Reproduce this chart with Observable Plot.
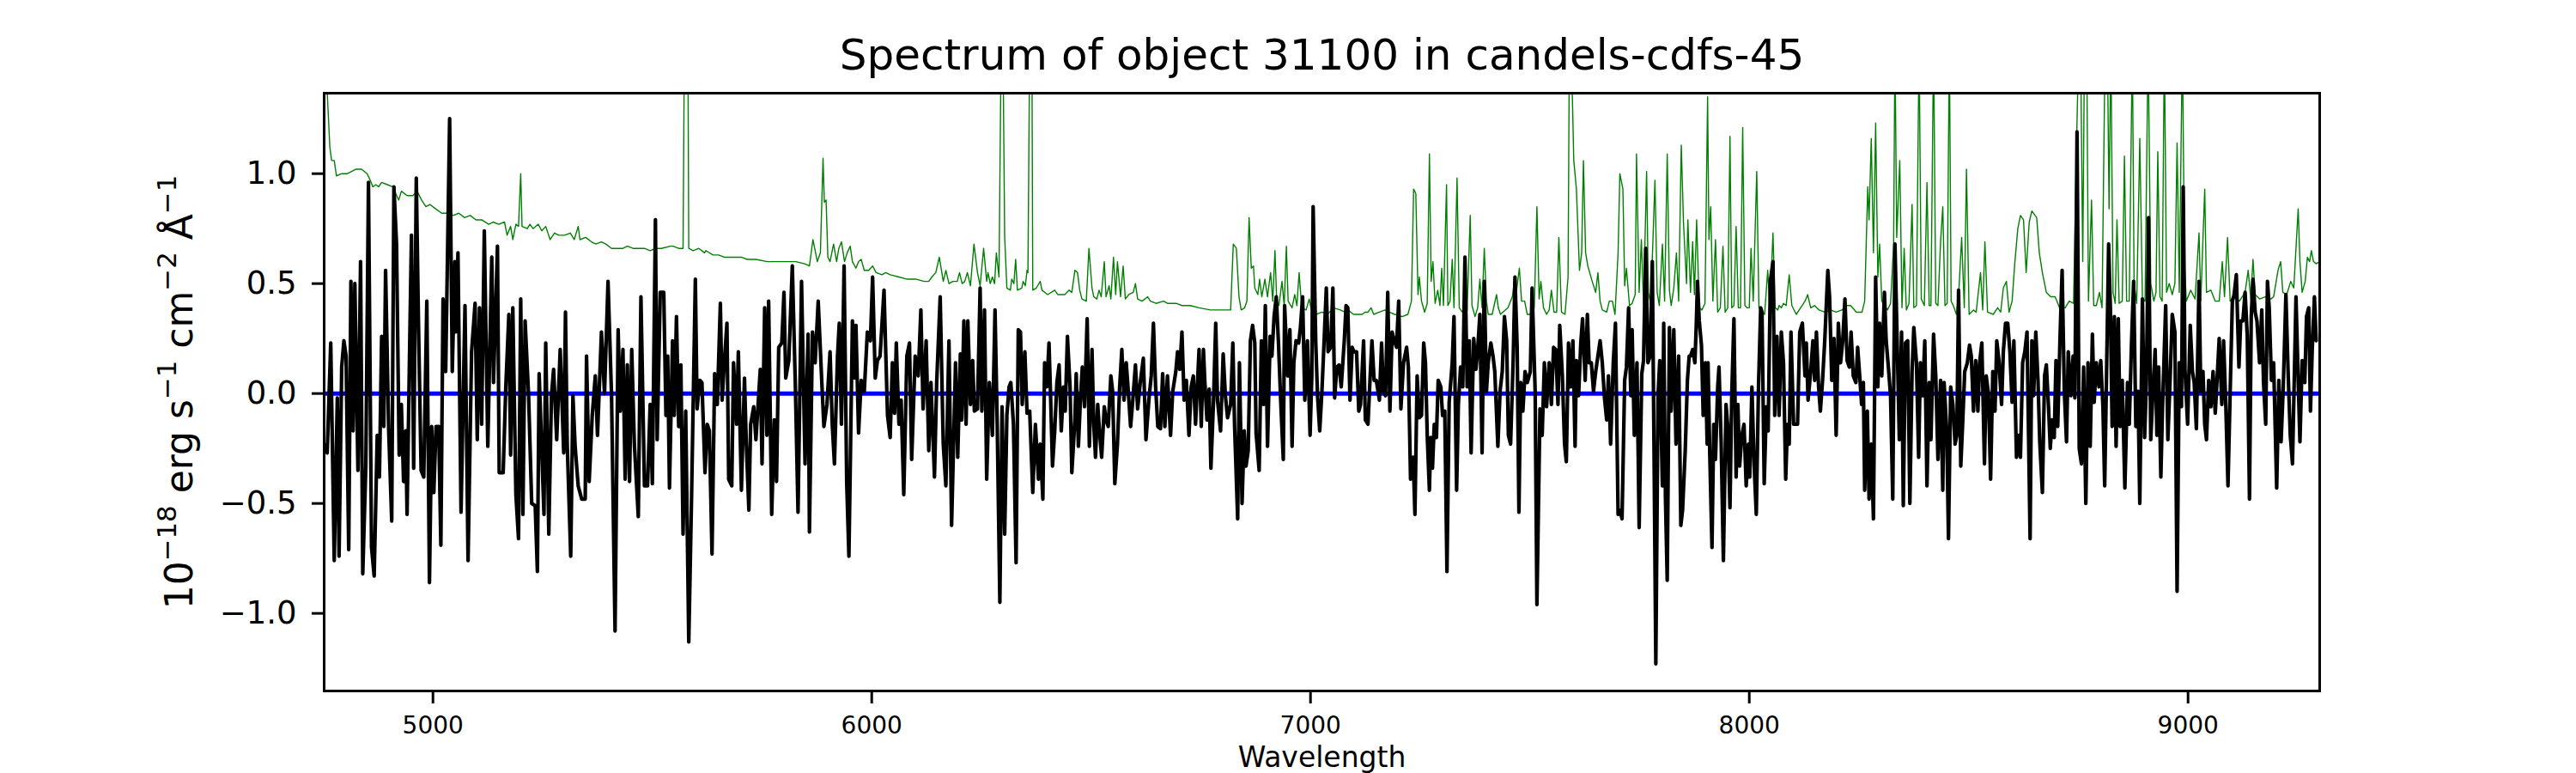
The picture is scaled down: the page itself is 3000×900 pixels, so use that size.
<!DOCTYPE html>
<html>
<head>
<meta charset="utf-8">
<script src="https://cdn.jsdelivr.net/npm/d3@7"></script>
<script src="https://cdn.jsdelivr.net/npm/@observablehq/plot@0.6"></script>
<style>
html,body{margin:0;padding:0;background:#fff;}
#chart{width:3000px;height:900px;}
</style>
</head>
<body>
<div id="chart"></div>
<script>
const titleText = "Spectrum of object 31100 in candels-cdfs-45";
const xLabelText = "Wavelength";
// y label pieces: [text, isSuperscript]
const yLabelParts = [["10", false], ["\u221218", true], [" erg s", false], ["\u22121", true], [" cm", false], ["\u22122", true], [" \u00C5", false], ["\u22121", true]];
const yLabelText = yLabelParts.map(p => p[0]).join("");
const xTicks = [5000, 6000, 7000, 8000, 9000];
const yTicks = [-1.0, -0.5, 0.0, 0.5, 1.0];
const zeroLevel = [0];

// observed flux [wavelength, flux]
const flux = [
[4752,-0.23],[4759,-0.27],[4767,0.23],[4775,-0.76],[4782,-0.02],[4786,-0.74],[4792,0.12],[4797,0.24],[4802,0.17],[4808,-0.71],
[4813,0.51],[4818,-0.17],[4822,0.50],[4829,-0.35],[4835,0.60],[4840,-0.82],[4847,-0.33],[4853,0.96],[4860,-0.70],[4866,-0.83],
[4873,-0.19],[4878,-0.38],[4883,0.26],[4888,-0.15],[4892,0.56],[4899,-0.16],[4906,-0.58],[4911,0.94],[4917,0.68],[4923,-0.28],
[4928,-0.05],[4933,-0.40],[4938,-0.17],[4941,-0.55],[4947,0.23],[4951,0.72],[4956,-0.34],[4962,0.98],[4967,0.32],[4973,-0.35],
[4979,-0.38],[4986,0.42],[4992,-0.86],[4997,-0.15],[5002,-0.45],[5007,-0.15],[5013,-0.15],[5018,-0.69],[5023,0.43],[5029,0.10],
[5038,1.25],[5044,0.10],[5050,0.60],[5052,0.28],[5057,0.64],[5064,-0.54],[5073,0.40],[5080,-0.76],[5088,0.19],[5096,0.41],
[5101,-0.21],[5106,0.39],[5111,-0.14],[5117,0.74],[5125,-0.24],[5134,0.62],[5138,0.05],[5147,0.67],[5151,-0.36],[5160,-0.36],
[5166,0.03],[5173,0.36],[5177,-0.28],[5182,0.39],[5189,-0.46],[5195,-0.66],[5200,0.43],[5205,-0.55],[5210,0.33],[5218,-0.01],
[5225,-0.50],[5233,-0.51],[5238,-0.81],[5242,0.09],[5253,-0.55],[5257,0.23],[5264,-0.64],[5270,-0.01],[5275,0.11],[5282,-0.21],
[5290,0.20],[5298,-0.27],[5302,0.37],[5306,-0.23],[5314,-0.74],[5319,-0.01],[5324,-0.24],[5331,-0.42],[5339,-0.48],[5347,-0.48],
[5350,0.17],[5356,-0.40],[5363,-0.10],[5370,0.08],[5375,-0.19],[5384,0.28],[5391,0.00],[5399,0.51],[5407,-0.01],[5415,-1.08],
[5422,0.29],[5427,-0.08],[5433,0.20],[5438,-0.39],[5443,0.13],[5448,-0.40],[5453,0.20],[5459,-0.23],[5468,-0.56],[5474,0.44],
[5482,-0.42],[5489,-0.42],[5495,-0.05],[5500,-0.41],[5507,0.79],[5511,-0.21],[5518,0.46],[5526,0.46],[5531,-0.10],[5535,0.17],
[5539,-0.43],[5546,0.24],[5550,-0.10],[5555,0.35],[5560,-0.15],[5565,0.13],[5570,-0.64],[5576,-0.08],[5583,-1.13],[5589,-0.51],
[5598,0.52],[5602,-0.07],[5608,0.06],[5613,0.05],[5620,-0.36],[5625,-0.14],[5630,-0.17],[5636,-0.73],[5642,0.09],[5648,-0.05],
[5655,0.41],[5659,-0.03],[5664,0.14],[5670,0.32],[5674,-0.39],[5681,-0.42],[5685,0.14],[5692,-0.14],[5696,0.19],[5703,-0.44],
[5710,0.07],[5714,-0.22],[5720,-0.53],[5724,-0.14],[5731,-0.06],[5736,-0.21],[5746,0.11],[5750,-0.32],[5756,0.39],[5761,-0.19],
[5765,0.42],[5772,-0.55],[5778,-0.12],[5783,-0.40],[5788,0.21],[5795,0.23],[5800,0.46],[5804,0.07],[5811,0.15],[5819,0.58],
[5826,0.03],[5832,-0.54],[5840,0.51],[5848,-0.32],[5855,0.27],[5858,-0.63],[5865,0.28],[5871,0.14],[5878,0.42],[5886,0.06],
[5891,-0.15],[5898,-0.05],[5905,0.19],[5910,-0.14],[5915,-0.32],[5922,0.17],[5926,0.32],[5931,-0.14],[5937,0.58],[5943,-0.41],
[5948,-0.74],[5956,0.33],[5961,0.07],[5964,0.31],[5970,-0.18],[5976,0.06],[5983,0.01],[5990,0.28],[5997,0.24],[6002,0.53],
[6008,0.07],[6013,0.15],[6019,0.17],[6028,0.47],[6036,-0.10],[6042,-0.20],[6047,0.14],[6052,-0.09],[6056,0.23],[6062,-0.14],
[6067,-0.03],[6073,-0.46],[6080,0.17],[6086,0.23],[6091,-0.30],[6099,0.17],[6106,0.08],[6112,0.38],[6117,-0.07],[6124,0.24],
[6130,-0.26],[6135,0.05],[6143,-0.38],[6148,0.05],[6156,0.44],[6163,-0.23],[6169,-0.42],[6176,0.24],[6182,-0.60],[6191,0.14],
[6196,-0.29],[6202,0.18],[6205,-0.12],[6210,0.33],[6215,-0.14],[6219,0.33],[6225,-0.05],[6230,0.15],[6234,-0.08],[6241,-0.07],
[6247,0.48],[6251,-0.08],[6257,0.38],[6262,-0.39],[6268,0.05],[6275,-0.19],[6281,0.38],[6286,-0.14],[6292,-0.95],[6297,-0.06],
[6303,-0.64],[6308,-0.10],[6313,0.03],[6317,0.05],[6323,-0.14],[6329,-0.77],[6334,0.29],[6339,0.28],[6343,-0.05],[6349,0.19],
[6354,-0.09],[6360,-0.08],[6367,-0.45],[6373,-0.14],[6380,-0.39],[6384,-0.23],[6390,-0.48],[6394,0.14],[6399,0.03],[6404,0.23],
[6407,0.03],[6412,-0.33],[6417,-0.17],[6422,0.05],[6427,0.13],[6432,-0.17],[6437,0.03],[6441,-0.08],[6446,0.26],[6452,0.03],
[6456,-0.36],[6463,-0.12],[6466,0.09],[6471,-0.24],[6476,-0.01],[6480,0.12],[6485,-0.06],[6491,0.34],[6496,-0.24],[6502,0.20],
[6506,-0.14],[6510,-0.29],[6515,-0.05],[6519,-0.17],[6524,-0.29],[6530,-0.06],[6534,-0.12],[6539,-0.15],[6545,0.08],[6549,0.01],
[6554,-0.41],[6560,-0.23],[6565,0.03],[6570,0.20],[6575,-0.03],[6580,0.14],[6584,0.03],[6590,-0.15],[6595,-0.03],[6601,0.13],
[6606,-0.07],[6612,0.05],[6619,0.16],[6625,-0.21],[6632,-0.02],[6637,0.08],[6642,0.32],[6647,0.03],[6652,-0.15],[6658,-0.16],
[6663,0.09],[6668,-0.15],[6674,0.08],[6681,-0.19],[6686,0.01],[6693,0.10],[6697,0.19],[6702,0.11],[6707,0.28],[6712,-0.03],
[6717,0.06],[6723,-0.19],[6728,0.03],[6733,0.08],[6738,-0.14],[6746,0.20],[6751,-0.15],[6756,0.20],[6759,0.06],[6764,-0.12],
[6769,0.02],[6773,-0.34],[6779,-0.03],[6784,0.32],[6788,-0.03],[6795,-0.17],[6801,0.18],[6806,-0.01],[6811,-0.11],[6818,-0.05],
[6823,0.23],[6827,-0.15],[6834,-0.57],[6838,0.14],[6844,-0.50],[6849,-0.17],[6853,-0.33],[6858,-0.26],[6863,0.24],[6868,0.31],
[6873,0.23],[6876,-0.18],[6883,-0.35],[6888,0.24],[6893,-0.05],[6897,0.40],[6902,-0.24],[6908,0.26],[6912,0.17],[6917,0.35],
[6922,0.44],[6927,0.23],[6932,-0.03],[6938,-0.30],[6941,0.40],[6948,0.08],[6953,0.29],[6958,-0.24],[6962,0.14],[6967,0.24],
[6973,0.23],[6977,0.30],[6982,0.44],[6987,-0.03],[6993,0.24],[6999,-0.19],[7003,0.08],[7006,0.85],[7012,0.23],[7016,-0.01],
[7021,-0.17],[7026,0.01],[7031,0.24],[7036,0.48],[7040,0.19],[7046,0.21],[7051,0.48],[7055,-0.02],[7060,0.12],[7065,0.13],
[7070,0.03],[7077,0.24],[7081,0.40],[7085,0.39],[7090,-0.03],[7095,0.21],[7099,0.19],[7105,0.19],[7110,-0.08],[7114,-0.05],
[7121,0.24],[7125,-0.12],[7131,-0.14],[7136,0.08],[7140,0.24],[7145,0.06],[7150,0.06],[7157,-0.03],[7162,0.23],[7166,0.01],
[7171,-0.01],[7176,0.46],[7181,-0.08],[7186,0.28],[7191,0.24],[7196,0.21],[7201,0.42],[7206,-0.07],[7212,0.14],[7219,0.21],
[7223,0.12],[7228,-0.39],[7234,-0.29],[7238,-0.55],[7243,0.08],[7248,-0.11],[7253,-0.10],[7258,0.23],[7262,0.14],[7266,-0.19],
[7271,-0.44],[7274,-0.20],[7278,-0.34],[7282,-0.14],[7287,-0.20],[7291,0.06],[7297,0.03],[7301,-0.10],[7306,-0.08],[7311,-0.81],
[7316,-0.04],[7323,0.14],[7327,0.35],[7333,-0.44],[7337,-0.05],[7342,0.12],[7347,0.03],[7352,0.62],[7357,0.03],[7362,0.24],
[7366,-0.27],[7372,0.25],[7377,0.11],[7381,0.20],[7386,0.36],[7391,-0.27],[7396,0.51],[7401,0.01],[7405,0.14],[7411,0.23],
[7416,0.17],[7420,0.10],[7427,-0.24],[7432,0.01],[7437,0.10],[7442,0.35],[7447,0.24],[7451,-0.19],[7456,-0.23],[7462,0.16],
[7466,0.53],[7471,0.21],[7475,-0.54],[7479,0.05],[7484,-0.08],[7489,0.10],[7494,0.05],[7501,0.10],[7505,0.48],[7512,0.01],
[7516,-0.96],[7523,-0.07],[7528,-0.19],[7533,0.14],[7538,-0.06],[7544,0.14],[7549,-0.05],[7554,0.21],[7559,0.20],[7564,-0.05],
[7568,0.31],[7574,0.08],[7579,-0.23],[7583,-0.31],[7588,0.23],[7593,0.03],[7598,0.24],[7603,-0.24],[7606,0.15],[7611,-0.01],
[7616,0.23],[7620,0.34],[7626,0.06],[7631,0.36],[7635,0.14],[7640,0.14],[7645,0.01],[7650,0.10],[7655,0.17],[7660,0.24],
[7665,0.14],[7670,-0.02],[7675,-0.12],[7679,0.08],[7684,-0.23],[7690,0.14],[7695,0.32],[7701,-0.55],[7705,-0.53],[7710,-0.57],
[7716,0.06],[7720,0.12],[7725,0.39],[7730,-0.01],[7733,0.29],[7738,-0.19],[7744,0.14],[7749,-0.61],[7755,0.09],[7759,0.15],
[7764,0.66],[7769,0.14],[7774,0.17],[7779,0.60],[7783,-0.28],[7787,-1.23],[7792,-0.01],[7796,0.15],[7802,-0.42],[7805,0.32],
[7809,-0.48],[7813,-0.85],[7818,0.30],[7822,-0.08],[7828,0.29],[7833,-0.23],[7839,0.17],[7844,-0.60],[7848,-0.53],[7854,-0.26],
[7859,0.06],[7863,0.17],[7866,0.17],[7871,0.20],[7876,0.14],[7879,0.30],[7882,0.51],[7886,0.33],[7891,0.22],[7895,-0.10],
[7900,0.14],[7904,-0.23],[7906,0.14],[7910,-0.28],[7915,-0.70],[7919,-0.14],[7923,-0.30],[7928,0.03],[7931,0.12],[7936,-0.23],
[7941,-0.76],[7947,-0.05],[7951,-0.15],[7956,-0.52],[7960,-0.01],[7965,0.34],[7970,-0.38],[7974,-0.05],[7978,-0.33],[7983,-0.19],
[7988,-0.14],[7993,-0.42],[7998,-0.23],[8001,-0.38],[8006,0.03],[8011,-0.32],[8016,-0.55],[8021,0.03],[8026,0.39],[8029,0.37],
[8034,-0.41],[8039,-0.06],[8043,-0.17],[8048,0.51],[8054,0.60],[8058,-0.10],[8063,0.26],[8068,-0.10],[8073,0.28],[8078,0.14],
[8083,-0.39],[8087,-0.14],[8091,-0.23],[8095,0.28],[8101,-0.14],[8106,-0.14],[8110,-0.14],[8115,0.28],[8121,0.32],[8127,0.08],
[8130,0.23],[8134,-0.03],[8140,0.10],[8145,0.24],[8149,0.06],[8153,0.28],[8158,0.03],[8162,-0.08],[8167,0.06],[8172,0.24],
[8179,0.56],[8183,0.44],[8188,0.06],[8193,0.25],[8198,-0.19],[8203,0.32],[8208,0.14],[8213,0.24],[8218,0.43],[8223,0.15],
[8228,0.12],[8232,0.28],[8237,0.08],[8243,0.05],[8247,0.21],[8252,0.07],[8256,-0.05],[8260,0.05],[8263,-0.44],[8269,-0.08],
[8273,-0.48],[8278,-0.23],[8283,-0.57],[8288,0.53],[8293,0.03],[8297,0.32],[8302,0.08],[8308,0.46],[8312,0.24],[8317,0.12],
[8322,-0.01],[8327,-0.48],[8332,0.68],[8336,0.33],[8342,-0.21],[8347,0.28],[8351,-0.51],[8356,0.23],[8361,0.24],[8366,-0.50],
[8371,0.10],[8375,0.30],[8381,0.14],[8386,-0.29],[8390,0.14],[8395,-0.01],[8400,0.24],[8405,-0.42],[8410,0.05],[8414,-0.21],
[8420,0.27],[8425,0.08],[8430,-0.30],[8436,0.06],[8441,-0.44],[8444,0.05],[8450,-0.17],[8454,-0.66],[8459,0.03],[8464,-0.05],
[8469,-0.23],[8473,-0.19],[8477,0.47],[8482,-0.33],[8486,-0.15],[8491,0.10],[8497,0.14],[8502,0.22],[8506,0.17],[8511,-0.08],
[8516,0.15],[8521,-0.08],[8525,0.14],[8530,0.23],[8536,-0.32],[8540,0.08],[8545,0.00],[8550,-0.39],[8555,0.10],[8560,-0.08],
[8564,0.24],[8569,0.15],[8575,-0.05],[8579,0.19],[8584,0.32],[8589,0.32],[8594,0.19],[8599,-0.04],[8603,0.24],[8609,-0.29],
[8614,-0.19],[8618,-0.29],[8623,0.14],[8628,0.19],[8633,0.28],[8640,-0.66],[8644,0.24],[8648,-0.01],[8653,0.28],[8658,0.06],
[8662,-0.22],[8668,-0.45],[8673,0.08],[8677,0.13],[8682,-0.06],[8686,-0.25],[8690,-0.12],[8695,-0.20],[8699,0.15],[8703,-0.15],
[8708,0.24],[8713,0.56],[8718,0.01],[8723,-0.22],[8727,0.19],[8733,-0.01],[8738,0.17],[8742,-0.02],[8747,1.19],[8752,-0.25],
[8757,-0.32],[8762,0.12],[8767,-0.50],[8772,0.14],[8777,-0.24],[8782,0.27],[8786,-0.04],[8791,0.14],[8797,0.03],[8801,0.15],
[8806,-0.06],[8810,-0.42],[8814,0.06],[8819,0.68],[8823,0.39],[8827,-0.15],[8832,0.35],[8836,-0.24],[8841,0.34],[8845,-0.15],
[8850,0.06],[8856,-0.43],[8862,0.05],[8866,-0.14],[8871,0.22],[8876,0.51],[8881,-0.15],[8886,0.01],[8890,-0.50],[8896,0.43],
[8901,-0.20],[8905,0.05],[8910,0.80],[8915,-0.21],[8920,0.01],[8925,0.20],[8929,-0.19],[8933,0.12],[8938,-0.38],[8942,-0.05],
[8949,0.40],[8954,-0.21],[8959,0.06],[8964,0.36],[8970,0.28],[8975,-0.90],[8980,0.14],[8985,-0.06],[8989,0.94],[8993,0.11],
[8999,-0.14],[9005,0.31],[9010,0.10],[9014,0.05],[9019,-0.16],[9025,0.51],[9029,0.01],[9034,0.10],[9038,-0.14],[9042,-0.21],
[9047,0.06],[9052,-0.06],[9057,0.10],[9062,-0.09],[9066,0.06],[9071,0.25],[9077,-0.05],[9081,0.24],[9086,-0.05],[9091,-0.42],
[9096,0.01],[9101,0.42],[9105,0.45],[9110,0.54],[9116,0.12],[9120,0.33],[9125,0.33],[9130,0.46],[9135,0.26],[9140,-0.48],
[9144,0.35],[9148,0.52],[9153,0.37],[9157,0.33],[9163,0.14],[9168,0.38],[9172,0.05],[9177,-0.14],[9181,0.51],[9185,0.39],
[9190,0.06],[9195,0.14],[9202,-0.43],[9207,0.06],[9212,-0.22],[9217,0.03],[9223,0.45],[9228,0.10],[9233,-0.19],[9238,-0.32],
[9242,0.06],[9246,0.44],[9251,0.06],[9255,-0.22],[9260,0.15],[9266,0.05],[9270,0.35],[9275,0.39],[9279,-0.08],[9283,0.20],
[9288,0.44],[9292,0.24]
];

// green spectrum [wavelength, value]
const sky = [
[4752,1.45],[4759,1.37],[4765,1.12],[4769,1.06],[4775,1.06],[4780,0.99],[4792,1.00],[4805,1.00],[4824,1.02],[4837,1.02],
[4850,1.00],[4857,0.97],[4863,0.94],[4870,0.95],[4876,0.94],[4883,0.96],[4896,0.95],[4909,0.94],[4915,0.91],[4922,0.88],
[4928,0.92],[4941,0.90],[4954,0.90],[4964,0.92],[4974,0.88],[4984,0.85],[4993,0.86],[5006,0.84],[5020,0.82],[5033,0.82],
[5046,0.81],[5059,0.82],[5072,0.80],[5085,0.81],[5098,0.79],[5111,0.79],[5127,0.77],[5137,0.78],[5150,0.77],[5163,0.78],
[5169,0.72],[5177,0.76],[5182,0.70],[5189,0.77],[5195,0.76],[5200,1.00],[5203,0.76],[5215,0.75],[5221,0.77],[5228,0.75],
[5240,0.77],[5248,0.74],[5257,0.76],[5267,0.70],[5277,0.73],[5287,0.72],[5300,0.72],[5313,0.73],[5322,0.70],[5331,0.76],
[5335,0.70],[5348,0.71],[5361,0.69],[5371,0.68],[5384,0.69],[5394,0.68],[5407,0.66],[5420,0.66],[5433,0.66],[5443,0.67],
[5456,0.66],[5469,0.66],[5482,0.66],[5495,0.65],[5508,0.66],[5521,0.66],[5541,0.67],[5547,0.67],[5560,0.66],[5570,0.66],
[5573,1.60],[5581,1.60],[5583,0.66],[5593,0.65],[5606,0.66],[5619,0.64],[5622,0.65],[5638,0.63],[5651,0.63],[5664,0.62],
[5677,0.62],[5703,0.62],[5716,0.61],[5736,0.61],[5762,0.60],[5782,0.60],[5801,0.60],[5827,0.60],[5847,0.59],[5858,0.58],
[5866,0.70],[5876,0.60],[5883,0.64],[5889,1.07],[5892,0.87],[5896,0.88],[5900,0.62],[5905,0.60],[5913,0.68],[5920,0.60],
[5925,0.66],[5931,0.69],[5938,0.60],[5944,0.64],[5951,0.67],[5956,0.60],[5964,0.57],[5970,0.60],[5976,0.61],[5983,0.56],
[5993,0.56],[6002,0.58],[6010,0.55],[6023,0.54],[6032,0.55],[6042,0.54],[6062,0.53],[6081,0.52],[6101,0.52],[6120,0.51],
[6130,0.51],[6137,0.53],[6146,0.55],[6154,0.62],[6163,0.51],[6169,0.56],[6176,0.50],[6185,0.51],[6195,0.51],[6200,0.55],
[6206,0.50],[6212,0.51],[6218,0.55],[6225,0.49],[6233,0.68],[6241,0.55],[6247,0.49],[6255,0.66],[6262,0.51],[6265,0.55],
[6270,0.50],[6275,0.53],[6280,0.50],[6284,0.64],[6290,0.53],[6295,1.60],[6299,1.60],[6303,0.71],[6308,0.48],[6316,0.47],
[6319,0.52],[6324,0.50],[6328,0.61],[6332,0.47],[6342,0.48],[6345,0.51],[6350,0.49],[6354,0.56],[6356,0.55],[6360,1.60],
[6365,1.60],[6367,0.47],[6375,0.48],[6378,0.49],[6384,0.51],[6388,0.47],[6401,0.45],[6417,0.47],[6424,0.45],[6440,0.45],
[6450,0.47],[6456,0.46],[6463,0.56],[6469,0.55],[6474,0.47],[6479,0.43],[6489,0.42],[6495,0.66],[6502,0.48],[6506,0.44],
[6513,0.43],[6518,0.47],[6523,0.44],[6530,0.60],[6534,0.44],[6541,0.49],[6545,0.43],[6551,0.62],[6556,0.45],[6560,0.60],
[6567,0.44],[6573,0.58],[6578,0.43],[6586,0.45],[6596,0.46],[6601,0.50],[6606,0.43],[6616,0.42],[6629,0.44],[6635,0.42],
[6648,0.41],[6665,0.42],[6674,0.41],[6694,0.41],[6707,0.40],[6726,0.40],[6746,0.39],[6772,0.38],[6798,0.38],[6818,0.38],
[6824,0.68],[6831,0.66],[6837,0.44],[6842,0.38],[6850,0.39],[6855,0.42],[6860,0.80],[6865,0.57],[6870,0.58],[6873,0.48],
[6880,0.45],[6884,0.52],[6889,0.44],[6896,0.52],[6902,0.44],[6909,0.55],[6914,0.42],[6919,0.65],[6923,0.42],[6928,0.40],
[6935,0.51],[6940,0.40],[6945,0.67],[6949,0.42],[6958,0.39],[6964,0.45],[6969,0.40],[6974,0.55],[6980,0.39],[6990,0.38],
[6997,0.43],[7003,0.37],[7013,0.36],[7026,0.37],[7039,0.36],[7052,0.39],[7068,0.38],[7078,0.37],[7085,0.38],[7098,0.36],
[7118,0.36],[7124,0.37],[7131,0.37],[7138,0.39],[7144,0.36],[7157,0.37],[7170,0.38],[7179,0.37],[7192,0.36],[7209,0.35],
[7222,0.36],[7230,0.42],[7235,0.93],[7240,0.91],[7245,0.45],[7248,0.53],[7253,0.42],[7260,0.37],[7266,0.41],[7271,1.09],
[7275,0.51],[7279,0.60],[7284,0.41],[7290,0.47],[7295,0.40],[7299,0.57],[7303,0.40],[7310,0.95],[7313,0.40],[7318,0.42],
[7323,0.61],[7327,0.39],[7334,0.98],[7339,0.39],[7346,0.37],[7351,0.40],[7357,0.38],[7364,0.81],[7368,0.40],[7375,0.35],
[7381,0.39],[7386,0.52],[7391,0.39],[7396,0.66],[7401,0.42],[7405,0.36],[7414,0.36],[7424,0.45],[7428,0.39],[7433,0.36],
[7450,0.39],[7460,0.44],[7464,0.50],[7469,0.46],[7476,0.57],[7481,0.42],[7488,0.42],[7494,0.36],[7505,0.36],[7510,0.39],
[7516,0.85],[7521,0.43],[7525,0.51],[7531,0.39],[7538,0.36],[7544,0.38],[7549,0.47],[7555,0.37],[7561,0.37],[7566,0.71],
[7572,0.37],[7580,0.36],[7587,0.53],[7590,1.60],[7594,1.60],[7600,1.06],[7606,0.93],[7613,0.56],[7618,0.64],[7622,1.06],
[7627,0.64],[7632,0.58],[7642,0.51],[7650,0.46],[7655,0.55],[7660,0.42],[7665,0.38],[7675,0.37],[7681,0.42],[7688,0.42],
[7694,0.36],[7701,0.64],[7705,1.00],[7712,0.93],[7716,0.49],[7720,0.57],[7727,0.40],[7733,0.41],[7740,0.45],[7743,1.09],
[7749,0.46],[7754,0.70],[7759,0.41],[7766,1.01],[7770,0.46],[7775,0.41],[7780,0.67],[7785,0.97],[7790,0.46],[7795,0.40],
[7802,0.68],[7807,0.42],[7813,1.09],[7818,0.47],[7822,0.40],[7828,0.48],[7834,0.64],[7839,0.42],[7845,1.13],[7850,0.78],
[7857,0.50],[7860,0.79],[7866,0.46],[7871,0.69],[7875,0.45],[7880,0.79],[7886,0.39],[7892,0.38],[7899,0.41],[7905,1.35],
[7908,0.70],[7912,0.85],[7917,0.42],[7923,0.70],[7928,0.37],[7934,0.39],[7940,0.67],[7945,0.37],[7951,0.39],[7956,1.17],
[7960,0.39],[7965,0.40],[7970,0.76],[7975,0.39],[7980,0.39],[7985,1.21],[7990,0.40],[7995,0.39],[8000,0.39],[8004,0.66],
[8009,0.42],[8017,1.01],[8022,0.39],[8029,0.37],[8035,0.36],[8042,0.56],[8047,0.38],[8054,0.73],[8059,0.39],[8065,0.38],
[8068,0.40],[8073,0.39],[8078,0.41],[8084,0.40],[8091,0.54],[8097,0.40],[8107,0.36],[8117,0.39],[8127,0.42],[8133,0.45],
[8140,0.39],[8149,0.40],[8159,0.38],[8172,0.37],[8185,0.38],[8198,0.37],[8211,0.38],[8221,0.40],[8231,0.40],[8244,0.37],
[8257,0.37],[8263,0.42],[8270,0.94],[8273,0.79],[8278,1.16],[8283,0.64],[8288,1.23],[8293,0.53],[8297,0.68],[8302,0.42],
[8309,0.40],[8315,0.38],[8322,0.41],[8329,0.68],[8332,1.60],[8336,0.71],[8343,1.06],[8348,0.39],[8353,0.66],[8358,0.38],
[8364,0.41],[8371,0.86],[8375,0.39],[8381,0.40],[8387,1.60],[8392,0.43],[8399,0.40],[8405,0.96],[8410,0.40],[8414,0.40],
[8420,1.60],[8425,0.41],[8430,0.40],[8436,0.69],[8441,0.85],[8446,0.40],[8451,0.41],[8456,1.60],[8460,0.42],[8465,0.40],
[8472,0.36],[8478,0.48],[8484,0.71],[8490,0.39],[8495,1.02],[8501,0.36],[8511,0.38],[8517,0.37],[8527,0.55],[8532,0.38],
[8537,0.69],[8543,0.37],[8556,0.36],[8566,0.39],[8573,0.37],[8579,0.48],[8586,0.51],[8592,0.37],[8599,0.42],[8605,0.59],
[8612,0.75],[8618,0.81],[8625,0.79],[8631,0.55],[8638,0.78],[8644,0.83],[8655,0.80],[8661,0.64],[8668,0.55],[8677,0.46],
[8687,0.44],[8697,0.44],[8707,0.39],[8720,0.39],[8729,0.42],[8739,0.41],[8747,1.24],[8751,1.60],[8755,1.60],[8760,0.60],
[8764,1.60],[8769,1.60],[8773,0.42],[8780,0.88],[8785,0.40],[8791,0.40],[8798,0.46],[8804,0.39],[8811,1.60],[8816,1.60],
[8820,0.84],[8824,1.60],[8829,0.46],[8834,0.41],[8838,0.79],[8843,0.41],[8850,0.42],[8855,1.08],[8860,0.42],[8866,0.42],
[8873,1.60],[8877,0.50],[8883,0.41],[8890,1.16],[8896,0.43],[8902,0.42],[8909,1.60],[8915,0.50],[8922,0.42],[8927,0.46],
[8931,1.10],[8936,0.44],[8941,0.42],[8946,1.60],[8951,0.46],[8957,0.50],[8964,0.45],[8970,0.50],[8975,1.14],[8980,0.46],
[8987,1.60],[8992,0.59],[8996,0.42],[9006,0.47],[9016,0.43],[9025,0.73],[9029,0.42],[9038,0.93],[9042,0.46],[9052,0.47],
[9062,0.42],[9071,0.42],[9078,0.60],[9083,0.44],[9090,0.71],[9096,0.42],[9104,0.44],[9117,0.42],[9130,0.46],[9137,0.56],
[9143,0.43],[9148,0.61],[9153,0.45],[9163,0.43],[9176,0.44],[9189,0.43],[9195,0.44],[9205,0.56],[9211,0.60],[9216,0.46],
[9225,0.45],[9234,0.51],[9241,0.48],[9251,0.84],[9255,0.60],[9260,0.46],[9267,0.51],[9272,0.62],[9277,0.60],[9281,0.65],
[9286,0.60],[9292,0.59],[9300,0.60]
];

const fmtX = d3.format("d");
const fmtY = d3.format(".1f");
const yLabelSize = 44;

const chart = Plot.plot({
  width: 3000,
  height: 900,
  marginLeft: 377,
  marginRight: 299,
  marginTop: 108,
  marginBottom: 96,
  style: {fontFamily: "DejaVu Sans", background: "white", color: "black", overflow: "visible"},
  x: {domain: [4752, 9300], label: null},
  y: {domain: [-1.353, 1.366], label: null},
  marks: [
    Plot.line(sky, {x: d => d[0], y: d => d[1], stroke: "green", strokeWidth: 1.4, clip: true}),
    Plot.ruleY(zeroLevel, {stroke: "blue", strokeWidth: 5}),
    Plot.line(flux, {x: d => d[0], y: d => d[1], stroke: "black", strokeWidth: 4.2, clip: true, strokeLinejoin: "round"}),
    Plot.frame({stroke: "black", strokeWidth: 3}),
    Plot.axisX({ticks: xTicks, tickFormat: fmtX, tickSize: 15, tickPadding: 15, fontSize: 28, strokeWidth: 3, label: null}),
    Plot.axisY({ticks: yTicks, tickFormat: fmtY, tickSize: 14, tickPadding: 18, fontSize: 37, strokeWidth: 3, label: null}),
    Plot.text([titleText], {text: d => d, frameAnchor: "top", lineAnchor: "middle", textAnchor: "middle", dy: -44, fontSize: 50}),
    Plot.text([xLabelText], {text: d => d, frameAnchor: "bottom", lineAnchor: "middle", textAnchor: "middle", dy: 78, fontSize: 33}),
    Plot.text([yLabelText], {text: d => d, frameAnchor: "left", lineAnchor: "middle", textAnchor: "middle", dx: -168, rotate: -90, fontSize: yLabelSize})
  ]
});

// typeset the y label with real superscripts (like the reference's mathtext)
const yNode = Array.from(chart.querySelectorAll("text")).find(t => t.textContent === yLabelText);
if (yNode) {
  while (yNode.firstChild) yNode.removeChild(yNode.firstChild);
  const shift = yLabelSize * 0.42;
  let raised = false;
  for (const [str, sup] of yLabelParts) {
    const ts = document.createElementNS("http://www.w3.org/2000/svg", "tspan");
    ts.textContent = str;
    if (sup && !raised) { ts.setAttribute("dy", -shift); raised = true; }
    else if (!sup && raised) { ts.setAttribute("dy", shift); raised = false; }
    if (sup) ts.setAttribute("font-size", yLabelSize * 0.7);
    yNode.appendChild(ts);
  }
}
document.getElementById("chart").appendChild(chart);
</script>
</body>
</html>
